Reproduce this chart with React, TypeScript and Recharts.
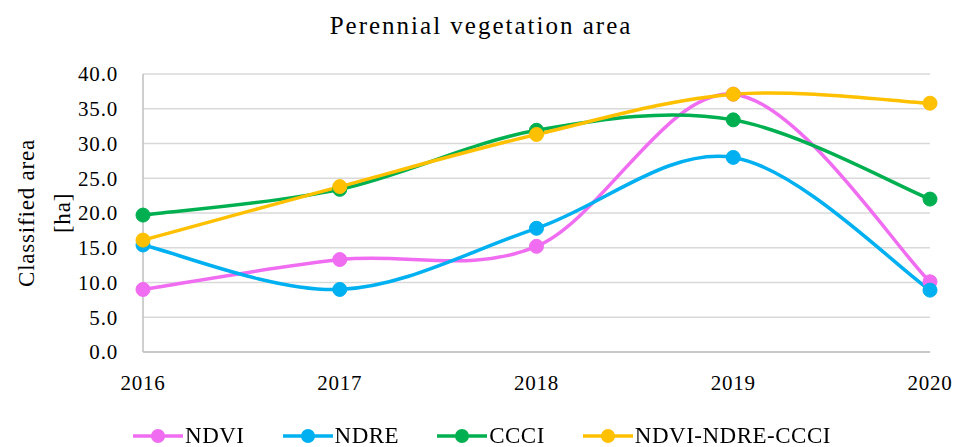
import React from "react";
import { LineChart, Line, XAxis, YAxis, CartesianGrid } from "recharts";

const years = ["2016", "2017", "2018", "2019", "2020"];
const ndvi = [9.0, 13.3, 15.2, 37.1, 10.1];
const ndre = [15.4, 9.0, 17.8, 28.0, 8.9];
const ccci = [19.7, 23.4, 31.9, 33.4, 22.0];
const combined = [16.1, 23.8, 31.3, 37.1, 35.8];
const yTicks = [0, 5, 10, 15, 20, 25, 30, 35, 40];

const seriesList = [
  { key: "ndvi", name: "NDVI", color: "#F06CF0", values: ndvi },
  { key: "ndre", name: "NDRE", color: "#00B0F0", values: ndre },
  { key: "ccci", name: "CCCI", color: "#00B050", values: ccci },
  { key: "combined", name: "NDVI-NDRE-CCCI", color: "#FFC000", values: combined },
];

const data = years.map((year, i) => {
  const row: Record<string, string | number> = { year };
  seriesList.forEach((s) => (row[s.key] = s.values[i]));
  return row;
});

const FONT = "'Liberation Serif', serif";

// Excel-like smoothed line (cardinal spline, tension 0)
const smoothCurve = (context: any) => {
  let pts: [number, number][] = [];
  return {
    areaStart() {},
    areaEnd() {},
    lineStart() {
      pts = [];
    },
    point(x: number, y: number) {
      pts.push([+x, +y]);
    },
    lineEnd() {
      if (!pts.length) return;
      context.moveTo(pts[0][0], pts[0][1]);
      for (let i = 0; i < pts.length - 1; i++) {
        const p0 = pts[i - 1] || pts[i];
        const p1 = pts[i];
        const p2 = pts[i + 1];
        const p3 = pts[i + 2] || pts[i + 1];
        context.bezierCurveTo(
          p1[0] + (p2[0] - p0[0]) / 6,
          p1[1] + (p2[1] - p0[1]) / 6,
          p2[0] - (p3[0] - p1[0]) / 6,
          p2[1] - (p3[1] - p1[1]) / 6,
          p2[0],
          p2[1]
        );
      }
    },
  };
};

const tickStyle = { fill: "#000", fontSize: 21, fontFamily: FONT, letterSpacing: 0.8 };

const YLabel = () => (
  <text
    transform="rotate(-90)"
    textAnchor="middle"
    fontFamily={FONT}
    fontSize={23}
    letterSpacing={0.8}
    fill="#000"
  >
    <tspan x={-213} y={34}>Classified area</tspan>
    <tspan x={-213} y={70}>[ha]</tspan>
  </text>
);

export default function App() {
  return (
    <div style={{ position: "fixed", left: 0, top: 0, width: 962, height: 447, background: "#fff", fontFamily: FONT }}>
      <div
        style={{
          position: "absolute",
          top: 12,
          width: 962,
          textAlign: "center",
          fontSize: 25,
          letterSpacing: 2,
        }}
      >
        Perennial vegetation area
      </div>
      <LineChart width={962} height={420} data={data} margin={{ top: 74, right: 32, left: 83, bottom: 38 }}>
        <CartesianGrid vertical={false} stroke="#D9D9D9" strokeWidth={1.5} />
        <XAxis
          dataKey="year"
          stroke="#BFBFBF"
          strokeWidth={1.5}
          tickLine={false}
          tickSize={0}
          tickMargin={23}
          height={30}
          tick={tickStyle}
        />
        <YAxis
          domain={[0, 40]}
          ticks={yTicks}
          interval={0}
          width={60}
          stroke="#BFBFBF"
          strokeWidth={1.5}
          tickLine={false}
          tickSize={0}
          tickMargin={25}
          tickFormatter={(v: number) => v.toFixed(1)}
          tick={tickStyle}
          label={{ content: () => <YLabel /> }}
        />
        {seriesList.map((s) => (
          <Line
            key={s.key}
            dataKey={s.key}
            name={s.name}
            type={smoothCurve as any}
            stroke={s.color}
            strokeWidth={3.5}
            dot={{ r: 7, fill: s.color, stroke: s.color, strokeWidth: 1 }}
            activeDot={false}
            isAnimationActive={false}
          />
        ))}
      </LineChart>
      <div
        style={{
          position: "absolute",
          top: 424,
          left: 0,
          width: 962,
          display: "flex",
          justifyContent: "center",
          gap: 36,
          fontSize: 23,
          letterSpacing: 0.5,
        }}
      >
        {seriesList.map((s) => (
          <div key={s.key} style={{ display: "flex", alignItems: "center" }}>
            <svg width={54} height={20}>
              <line x1={2} y1={10} x2={52} y2={10} stroke={s.color} strokeWidth={3.5} />
              <circle cx={27} cy={10} r={7} fill={s.color} />
            </svg>
            <span style={{ lineHeight: "24px" }}>{s.name}</span>
          </div>
        ))}
      </div>
    </div>
  );
}
